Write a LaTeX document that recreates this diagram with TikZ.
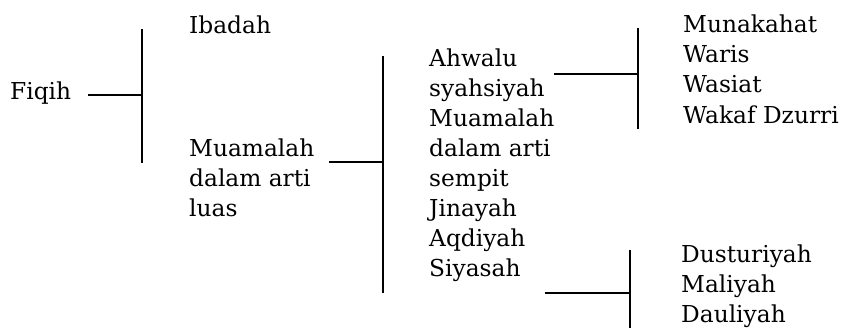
\documentclass[tikz,border=0pt]{standalone}
\usepackage{fontspec}
\setmainfont{DejaVu Serif}
\begin{document}
\begin{tikzpicture}[x=1pt,y=-1pt,
  lbl/.style={anchor=base west,inner sep=0pt,font=\fontsize{23.3}{30}\selectfont},
  conn/.style={line width=1.2pt,line cap=rect}]
\useasboundingbox (0,0) rectangle (845,328);

% root and first level
\node[lbl] (fiqih) at (10,100) {Fiqih};
\node[lbl] (ibadah) at (189,34) {Ibadah};
\node[lbl] (muam1) at (189,157) {Muamalah};
\node[lbl] (muam2) at (189,187) {dalam arti};
\node[lbl] (muam3) at (189,217) {luas};

% second level
\node[lbl] (ahw1) at (429,67) {Ahwalu};
\node[lbl] (ahw2) at (429,97) {syahsiyah};
\node[lbl] (mus1) at (429,127) {Muamalah};
\node[lbl] (mus2) at (429,157) {dalam arti};
\node[lbl] (mus3) at (429,187) {sempit};
\node[lbl] (jin) at (429,217) {Jinayah};
\node[lbl] (aqd) at (429,247) {Aqdiyah};
\node[lbl] (siy) at (429,277) {Siyasah};

% third level
\node[lbl] (mun) at (683,33) {Munakahat};
\node[lbl] (war) at (683,63) {Waris};
\node[lbl] (was) at (683,93) {Wasiat};
\node[lbl] (wak) at (683,124) {Wakaf Dzurri};
\node[lbl] (dus) at (681,263) {Dusturiyah};
\node[lbl] (mal) at (681,293) {Maliyah};
\node[lbl] (dau) at (681,323) {Dauliyah};

% bracket bars
\coordinate (b1t) at (142,30);  \coordinate (b1b) at (142,162);
\coordinate (b2t) at (383,57);  \coordinate (b2b) at (383,292);
\coordinate (b3t) at (638,29);  \coordinate (b3b) at (638,128);
\coordinate (b4t) at (630,251); \coordinate (b4b) at (630,330);
\draw[conn] (b1t) -- (b1b);
\draw[conn] (b2t) -- (b2b);
\draw[conn] (b3t) -- (b3b);
\draw[conn] (b4t) -- (b4b);

% connectors from labels to bars
\coordinate (c1) at (89,95);
\coordinate (c2) at (330,162);
\coordinate (c3) at (555,74);
\coordinate (c4) at (546,293);
\draw[conn] (c1) -- (c1 -| b1t);
\draw[conn] (c2) -- (c2 -| b2t);
\draw[conn] (c3) -- (c3 -| b3t);
\draw[conn] (c4) -- (c4 -| b4t);
\end{tikzpicture}
\end{document}
